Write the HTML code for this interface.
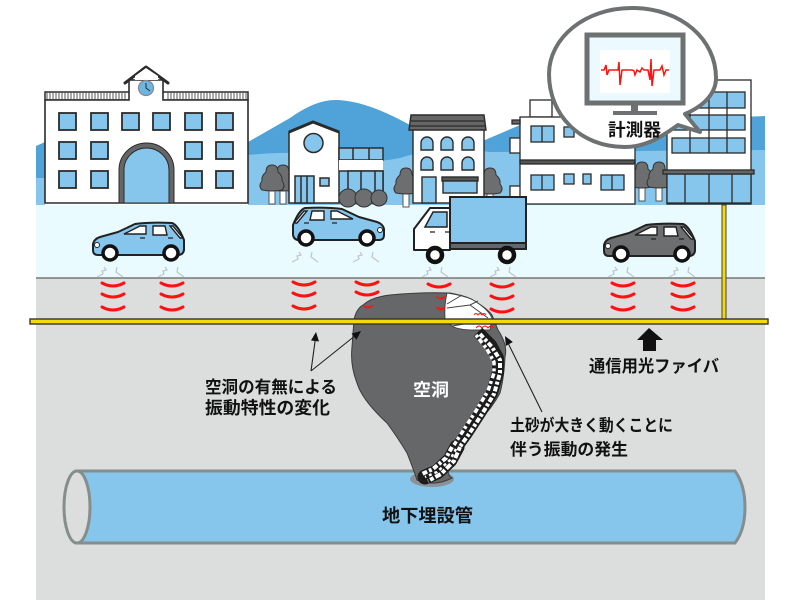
<!DOCTYPE html>
<html><head><meta charset="utf-8"><style>html,body{margin:0;padding:0;background:#fff}svg{display:block}text{font-family:"Liberation Sans","Noto Sans CJK JP",sans-serif;font-weight:700}</style></head><body>
<svg width="800" height="600" viewBox="0 0 800 600" xmlns="http://www.w3.org/2000/svg">
<defs>
<g id="car"><path d="M93 244 Q94 239 100 237 L118 232 L135 224 Q150 222 172 223 Q178 225 184 240 L184 250 Q183 255 178 255 L98 255 Q93 255 93 250Z" fill="currentColor" stroke="#222" stroke-width="2" stroke-linejoin="round"/>
<path d="M124 234 L140 226 L146 226 L146 234Z M153 226 L165 226 L167 235 L153 235Z M170 226 L173 226 L183 238 L180 238Z" fill="#fff" stroke="#222" stroke-width="1.400"/>
<path d="M140 238 h5 M168 238 h5" stroke="#222" stroke-width="1.300"/>
<circle cx="97" cy="245" r="2.500" fill="#fff" stroke="#222"/>
<circle cx="110" cy="253" r="7" fill="#fff" stroke="#111" stroke-width="3.500"/><circle cx="171" cy="253" r="7" fill="#fff" stroke="#111" stroke-width="3.500"/></g>
<g id="tree"><rect x="-3" y="0" width="6" height="15" fill="#fff" stroke="#555" stroke-width="1"/><path d="M0 -24 Q6 -24 6 -17 Q11 -13 10 -8 Q14 -3 10 1 Q0 3 -10 1 Q-14 -3 -10 -8 Q-11 -13 -6 -17 Q-6 -24 0 -24Z" fill="#6d6e70" stroke="#333" stroke-width="1"/></g>
<g id="wv" fill="none" stroke="#f11" stroke-width="3" stroke-linecap="round"><path d="M-11 -1 Q0 5 11 -1"/></g>
<g id="sq" fill="none" stroke="#c2c5c5" stroke-width="1.200"><path d="M-14 6 L-8 3 L-9 0 L-5 -1 L-7 -4 M6 -4 L5 1 L12 6"/></g>
</defs>
<rect width="800" height="600" fill="#fff"/>
<path d="M36 146 L45 142 L45 205 L36 205Z" fill="#4fa3d8"/>
<path d="M36 178 L45 178 L45 205 L36 205Z" fill="#86c6ec"/>
<path d="M248 142 L290 118 Q315 100 335 100 Q365 100 410 125 L485 140 L520 125 L765 116 L765 205 L248 205Z" fill="#4fa3d8"/>
<path d="M248 155 Q300 150 330 157 Q360 166 400 158 Q440 145 490 152 L765 150 L765 205 L248 205Z" fill="#86c6ec"/>
<rect x="36" y="205" width="729" height="73" fill="#e9fbff"/>
<rect x="36" y="278" width="729" height="322" fill="#dcdddd"/>
<line x1="36" y1="278" x2="765" y2="278" stroke="#777" stroke-width="1.500"/>

<!-- school -->
<g stroke="#2b2b2b">
<rect x="45" y="92" width="203" height="8" fill="#fff" stroke-width="1.500"/>
<path d="M47 92v8M50 92v8M53 92v8M56 92v8M59 92v8M62 92v8M65 92v8M68 92v8M71 92v8M74 92v8M77 92v8M80 92v8M83 92v8M86 92v8M89 92v8M92 92v8M95 92v8M98 92v8M101 92v8M104 92v8M107 92v8M110 92v8M113 92v8M116 92v8M119 92v8M122 92v8M125 92v8M168 92v8M171 92v8M174 92v8M177 92v8M180 92v8M183 92v8M186 92v8M189 92v8M192 92v8M195 92v8M198 92v8M201 92v8M204 92v8M207 92v8M210 92v8M213 92v8M216 92v8M219 92v8M222 92v8M225 92v8M228 92v8M231 92v8M234 92v8M237 92v8M240 92v8M243 92v8M246 92v8" stroke-width="1" stroke="#555"/>
<path d="M45 100 H129 V80 H163 V100 H248 V203 H45Z" fill="#fff" stroke-width="1.600"/>
<path d="M125 83 L146 67 L168 83" fill="none" stroke-width="3" stroke-linecap="round" stroke-linejoin="round"/>
<path d="M135 76 L146 68 L158 76 V80 H135Z" fill="#fff" stroke="none"/>
<circle cx="146" cy="88" r="7.500" fill="#6db5e3" stroke="#888" stroke-width="1.200"/><path d="M146 83 V88 L150 91" fill="none" stroke-width="1"/>
<g fill="#86c6ec" stroke-width="1.800">
<rect x="59" y="113" width="17" height="17"/><rect x="91" y="113" width="17" height="17"/><rect x="122" y="113" width="17" height="17"/><rect x="153" y="113" width="17" height="17"/><rect x="185" y="113" width="17" height="17"/><rect x="216" y="113" width="17" height="17"/>
<rect x="59" y="142" width="17" height="17"/><rect x="91" y="142" width="17" height="17"/><rect x="185" y="142" width="17" height="17"/><rect x="216" y="142" width="17" height="17"/>
<rect x="59" y="171" width="17" height="17"/><rect x="91" y="171" width="17" height="17"/><rect x="185" y="171" width="17" height="17"/><rect x="216" y="171" width="17" height="17"/>
</g>
<path d="M119 203 V170 A27.500 27 0 0 1 174 170 V203Z" fill="#666" stroke-width="1"/>
<path d="M124 203 V170 A22.500 22 0 0 1 169 170 V203Z" fill="#86c6ec" stroke-width="1"/>
</g>
<!-- trees -->
<use href="#tree" x="283" y="189"/><use href="#tree" x="272" y="189"/>
<use href="#tree" x="406" y="192"/><use href="#tree" x="490" y="192"/>
<use href="#tree" x="642" y="186"/><use href="#tree" x="659" y="186"/>
<!-- house -->
<g stroke="#2b2b2b" stroke-width="1.500">
<path d="M289 132 L313 122 L339 132 V203 H289Z" fill="#fff"/>
<path d="M289 132 L313 122 L339 132" fill="none" stroke-width="3"/>
<rect x="339" y="148" width="44" height="12" fill="#86c6ec"/><path d="M353 148v12M369 148v12" fill="none"/>
<rect x="339" y="160" width="44" height="11" fill="#fff" stroke="none"/><path d="M339 171 H383 V203" fill="none"/>
<rect x="348" y="171" width="35" height="32" fill="#86c6ec"/><path d="M361 171v32M375 171v32" fill="none"/>
<circle cx="313.500" cy="143" r="9.500" fill="#86c6ec"/>
<rect x="295" y="176" width="19" height="27" fill="#86c6ec"/><path d="M301 176v27M307 176v27" fill="none"/>
<rect x="320" y="178" width="9" height="8" fill="#86c6ec"/>
</g>
<g fill="#6d6e70" stroke="#333"><circle cx="348" cy="198" r="9"/><circle cx="364" cy="198" r="9"/><circle cx="379" cy="198" r="8"/></g>
<!-- building 3 -->
<g stroke="#2b2b2b" stroke-width="1.400">
<rect x="413" y="128" width="71" height="75" fill="#fff"/>
<path d="M411 115 H484 L486 130 H409Z" fill="#666"/><path d="M411 121H485M410 126H485" stroke="#333" fill="none"/>
<g fill="#86c6ec"><path d="M421 150V143a6 6 0 0 1 12 0V150Z"/><path d="M441 150V143a6 6 0 0 1 12 0V150Z"/><path d="M462 150V143a6 6 0 0 1 12 0V150Z"/><path d="M421 170V163a6 6 0 0 1 12 0V170Z"/><path d="M441 170V163a6 6 0 0 1 12 0V170Z"/><path d="M462 170V163a6 6 0 0 1 12 0V170Z"/>
<rect x="422" y="177" width="14" height="26"/><rect x="443" y="180" width="34" height="13"/></g>
<rect x="442" y="177" width="36" height="4" fill="#555"/>
</g>
<!-- building 4 -->
<g stroke="#2b2b2b" stroke-width="1.300">
<rect x="530" y="100" width="22" height="17" fill="#fff"/>
<rect x="510" y="138" width="11" height="15" fill="#fff"/><rect x="510" y="186" width="11" height="12" fill="#fff"/>
<rect x="520" y="117" width="115" height="87" fill="#fff"/>
<rect x="520" y="160" width="115" height="4" fill="#555"/>
<rect x="512" y="120" width="8" height="4" fill="#666"/>
<g fill="#86c6ec"><rect x="531" y="126" width="23" height="16"/><rect x="564" y="127" width="10" height="10"/><rect x="583" y="127" width="9" height="10"/><rect x="531" y="175" width="23" height="15"/><rect x="564" y="174" width="10" height="10"/><rect x="583" y="174" width="8" height="10"/><rect x="601" y="175" width="23" height="15"/></g>
<path d="M542 126v16M542 175v15M612 175v15" fill="none"/>
</g>
<!-- building 5 -->
<g stroke="#2b2b2b" stroke-width="1.300">
<rect x="667" y="80" width="84" height="124" fill="#fff"/>
<g fill="#86c6ec"><rect x="672" y="92" width="73" height="16"/><rect x="672" y="115" width="73" height="15"/><rect x="672" y="138" width="73" height="15"/><rect x="667" y="174" width="84" height="29"/></g>
<path d="M690 92v61M709 92v61M727 92v61M685 174v29M709 174v29M732 174v29" fill="none"/>
<rect x="663" y="170" width="91" height="4" fill="#666"/>
</g>
<!-- vehicles -->
<use href="#car" color="#86c6ec"/>
<use href="#car" color="#86c6ec" transform="matrix(-1 0 0 1 477 -15)"/>
<use href="#car" color="#6d6e70" transform="translate(511 1)"/>
<g stroke="#222" stroke-width="2">
<path d="M414 238 V229 L430 208 H450 V250 H414Z" fill="#fff" stroke-linejoin="round"/>
<path d="M425 227 L433 212 H447 V227Z" fill="#86c6ec" stroke-width="1.500"/>
<rect x="450" y="197" width="76" height="46" fill="#86c6ec"/>
<rect x="450" y="243" width="76" height="6" fill="#666"/>
<path d="M430 232h5M445 232h5" stroke-width="1.200"/>
<circle cx="435" cy="255" r="7" fill="#fff" stroke="#111" stroke-width="4.500"/><circle cx="507" cy="255" r="7" fill="#fff" stroke="#111" stroke-width="4.500"/>
</g>
<use href="#sq" x="111" y="271"/><use href="#sq" x="172" y="271"/>
<use href="#sq" x="306" y="256"/><use href="#sq" x="367" y="256"/>
<use href="#sq" x="436" y="271"/><use href="#sq" x="504" y="271"/>
<use href="#sq" x="622" y="271"/><use href="#sq" x="683" y="271"/>
<!-- vertical fibre -->
<rect x="722" y="205" width="4" height="116" fill="#f5d90a" stroke="#444" stroke-width="1"/>
<!-- red waves -->
<use href="#wv" x="113" y="284"/><use href="#wv" x="113" y="295"/><use href="#wv" x="113" y="308"/>
<use href="#wv" x="172" y="284"/><use href="#wv" x="172" y="295"/><use href="#wv" x="172" y="308"/>
<use href="#wv" x="304" y="283"/><use href="#wv" x="304" y="294"/><use href="#wv" x="304" y="307"/>
<use href="#wv" x="367" y="283"/><use href="#wv" x="367" y="293"/>
<use href="#wv" x="439" y="285"/>
<use href="#wv" x="502" y="285"/><use href="#wv" x="502" y="297"/><use href="#wv" x="502" y="310"/>
<use href="#wv" x="623" y="284"/><use href="#wv" x="623" y="295"/><use href="#wv" x="623" y="308"/>
<use href="#wv" x="683" y="284"/><use href="#wv" x="683" y="295"/><use href="#wv" x="683" y="308"/>
<!-- pipe -->
<path d="M77 471 H735 Q745 485 745 507 Q745 530 735 543 H77Z" fill="#86c6ec" stroke="#858d8d" stroke-width="3"/>
<ellipse cx="77" cy="507" rx="13" ry="36" fill="#dcdddd" stroke="#858d8d" stroke-width="3"/>
<!-- cavity -->
<ellipse cx="432" cy="479" rx="22" ry="8" fill="#8a9296"/>
<path d="M354 320 Q356 309 363 305 Q372 297 390 295 Q420 292 450 293 Q466 296 473 300 Q488 309 492 315 L498 330 Q508 345 505 357 Q504 378 500 393 Q492 408 480 420 Q466 432 457 447 Q450 460 448 470 Q448 476 452 478 Q435 487 417 480 Q413 468 407 453 Q398 438 387 423 Q362 400 357 383 Q350 365 352 347Z" fill="#656768" stroke="#3a3a3a" stroke-width="1"/>
<path d="M447 293 Q466 296 473 300 Q488 309 492 318 L490 330 L474 330 Q458 330 452 326 L445 320 Q444 305 447 293Z" fill="#fff" stroke="#444" stroke-width="1"/>
<path d="M447 304 L462 295 M447 308 L470 305 L478 301 M470 305 L488 318 M452 326 L476 322" fill="none" stroke="#444" stroke-width="1"/>
<path d="M476 328 q3 -4 6 0 q3 -4 6 0 q3 -4 6 0" fill="none" stroke="#f11" stroke-width="1"/>
<path d="M474 315 q2 -3 4 0 q2 -3 4 0 q2 -3 4 0" fill="none" stroke="#f11" stroke-width="1"/>
<!-- rubble -->
<g fill="none" stroke-linejoin="round">
<path d="M478 332 L491 345 L498 358 L498 372 L492 393 L480 413 L467 433 L457 447" stroke="#1c1c1c" stroke-width="12"/>
<path d="M457 447 L450 460 L437 472 L425 477" stroke="#1c1c1c" stroke-width="15" stroke-linecap="round"/>
<path d="M480 334 L492 347 L500 360 L500 373 L494 394 L482 414 L469 434 L459 448" stroke="#fff" stroke-width="4" stroke-dasharray="5 2 3 2"/>
<path d="M476 335 L487 349 L494 362 L494 373 L488 391 L476 411 L463 431 L454 445" stroke="#fff" stroke-width="3.500" stroke-dasharray="3 2 5 3"/>
<path d="M460 447 L454 461 L441 474 L428 481" stroke="#fff" stroke-width="4" stroke-dasharray="4 2 6 2"/>
<path d="M452 447 L446 458 L433 469 L422 474" stroke="#fff" stroke-width="4" stroke-dasharray="5 2 3 2"/>
<path d="M456 449 L450 460 L437 472 L425 477" stroke="#fff" stroke-width="2.500" stroke-dasharray="3 3"/>
</g>
<path d="M363 305 q5 4 10 0 q-5 6 -10 0Z M436 296 q5 4 9 0 q-3 6 -9 0Z M436 307 q5 3 9 0 q-3 6 -9 0Z" fill="#f11" stroke="#f11"/>
<!-- horizontal fibre -->
<rect x="30" y="319" width="738" height="5" fill="#f5d90a" stroke="#333" stroke-width="1.400"/>
<!-- arrows -->
<g stroke="#222" stroke-width="1.100" fill="none"><path d="M311 371 L315.500 338 M311 371 L356 335 M542 412 L508 343"/></g>
<g fill="#111"><path d="M316 332 L319 341.500 L311 340.500Z M361 331 L356.500 339.700 L351.500 333.500Z M505 336 L512.800 342 L505.800 346Z"/>
<path d="M649 328 L663 340 H656 V351 H643 V340 H637Z"/></g>
<!-- bubble -->
<path d="M632 8 C682 8 716 40 716 78 C716 92 706 105 685 114 L700 132 L678 125 C660 138 645 147 625 147 C580 147 549 115 549 74 C549 38 585 8 632 8Z" fill="#fff" stroke="#6d7171" stroke-width="4" stroke-linejoin="round"/>
<rect x="587" y="35" width="96" height="68" fill="#ecf9ff" stroke="#6d7171" stroke-width="5"/>
<rect x="600" y="50" width="70" height="43" fill="#fff"/>
<rect x="631" y="105" width="7" height="7" fill="#6d7171"/><rect x="613" y="111" width="44" height="4" fill="#6d7171"/>
<path d="M601 70 H604 L606 65 L607 75 L609 70 H616 L618 70 L619 62 L620 85 L622 70 H632 L634 71 L635 75 L637 70 L640 72 L642 68 L644 70 H648 L650 80 L651 59 L652 86 L654 70 H660 L662 66 L664 75 L666 70 H669" fill="none" stroke="#f11" stroke-width="1.500"/>
<!-- labels -->
<g fill="#111" lengthAdjust="spacingAndGlyphs">
<text x="608" y="136" font-size="17.500" textLength="53" lengthAdjust="spacingAndGlyphs">計測器</text>
<text x="205" y="393" font-size="17" textLength="132" lengthAdjust="spacingAndGlyphs">空洞の有無による</text>
<text x="205" y="414" font-size="17.500" textLength="125" lengthAdjust="spacingAndGlyphs">振動特性の変化</text>
<text x="510" y="431" font-size="16.500" textLength="163" lengthAdjust="spacingAndGlyphs">土砂が大きく動くことに</text>
<text x="510" y="455" font-size="16.500" textLength="118" lengthAdjust="spacingAndGlyphs">伴う振動の発生</text>
<text x="589" y="372" font-size="17" textLength="130" lengthAdjust="spacingAndGlyphs">通信用光ファイバ</text>
<text x="382" y="522" font-size="18" textLength="91" lengthAdjust="spacingAndGlyphs">地下埋設管</text>
<text x="413" y="396" font-size="17.500" fill="#fff" textLength="36" lengthAdjust="spacingAndGlyphs">空洞</text>
</g>
</svg>
</body></html>
